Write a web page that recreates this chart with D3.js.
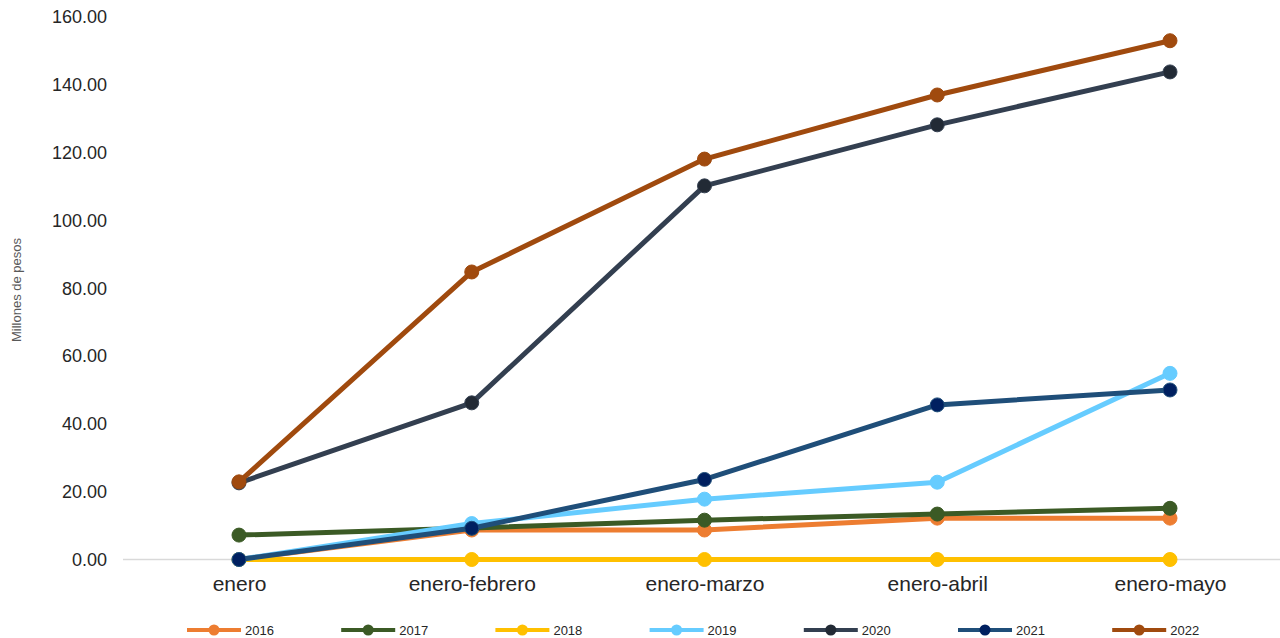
<!DOCTYPE html>
<html><head><meta charset="utf-8">
<script src="https://cdn.jsdelivr.net/npm/d3@7"></script>
<style>body{margin:0;background:#fff;}svg{display:block;font-family:"Liberation Sans",Arial,sans-serif;}</style>
</head><body><svg id="c" width="1280" height="638"></svg>
<script>
const categories = ["enero","enero-febrero","enero-marzo","enero-abril","enero-mayo"];
const seriesNames = ["2016","2017","2018","2019","2020","2021","2022"];
const v2016 = [0, 8.7, 8.7, 12.2, 12.2];
const v2017 = [7.2, 9.3, 11.6, 13.4, 15.1];
const v2018 = [0, 0, 0, 0, 0];
const v2019 = [0, 10.6, 17.8, 22.8, 54.9];
const v2020 = [22.6, 46.2, 110.2, 128.2, 143.8];
const v2021 = [0, 9.2, 23.6, 45.6, 50.0];
const v2022 = [22.9, 84.8, 118.1, 137.0, 153.0];
const yTicks = [0,20,40,60,80,100,120,140,160];
const lineColors = ["#ED7D31","#3B5A25","#FFC000","#66CCFF","#333F50","#1F4E79","#A04A0E"];
const markerColors = ["#ED7D31","#3B5A25","#FFC000","#66CCFF","#222A35","#002060","#A04A0E"];
const values = [v2016,v2017,v2018,v2019,v2020,v2021,v2022];

const svg = d3.select("#c");
const x = d3.scalePoint().domain(categories).range([239,1170]);
const y = d3.scaleLinear().domain([0,160]).range([559.5,17]);

// baseline
svg.append("line").attr("x1",123).attr("x2",1280).attr("y1",y(0)).attr("y2",y(0))
  .attr("stroke","#d9d9d9").attr("stroke-width",1.5);

// y axis
const ya = svg.append("g").attr("transform","translate(107,0)")
  .call(d3.axisLeft(y).tickValues(yTicks).tickFormat(d3.format(".2f")).tickSize(0).tickPadding(0));
ya.select(".domain").remove();
ya.selectAll("text").attr("font-size",18).attr("fill","#262626").attr("font-family","Liberation Sans, Arial, sans-serif");

// x axis
const xa = svg.append("g").attr("transform","translate(0,591)")
  .call(d3.axisBottom(x).tickSize(0).tickPadding(0));
xa.select(".domain").remove();
xa.selectAll("text").attr("font-size",21).attr("fill","#262626").attr("y",0).attr("dy","0").attr("font-family","Liberation Sans, Arial, sans-serif");

// axis title
svg.append("text").attr("transform","translate(21,290) rotate(-90)")
  .attr("text-anchor","middle").attr("font-size",13).attr("fill","#595959").text("Millones de pesos");

const line = d3.line().x((d,i)=>x(categories[i])).y(d=>y(d));
values.forEach((vals,s)=>{
  const g = svg.append("g");
  g.append("path").attr("d",line(vals)).attr("fill","none")
    .attr("stroke",lineColors[s]).attr("stroke-width",5).attr("stroke-linejoin","round");
  g.selectAll("circle").data(vals).join("circle")
    .attr("cx",(d,i)=>x(categories[i])).attr("cy",d=>y(d)).attr("r",7)
    .attr("fill",markerColors[s]).attr("stroke",lineColors[s]).attr("stroke-width",1);
});

// legend
const leg = svg.append("g").attr("transform","translate(187,630)");
seriesNames.forEach((n,s)=>{
  const g = leg.append("g").attr("transform",`translate(${s*154.2},0)`);
  g.append("line").attr("x1",0).attr("x2",54).attr("stroke",lineColors[s]).attr("stroke-width",4);
  g.append("circle").attr("cx",27).attr("r",5.5).attr("fill",markerColors[s]);
  g.append("text").attr("x",58).attr("dy","0.35em").attr("font-size",13).attr("fill","#262626").text(n);
});
</script></body></html>
